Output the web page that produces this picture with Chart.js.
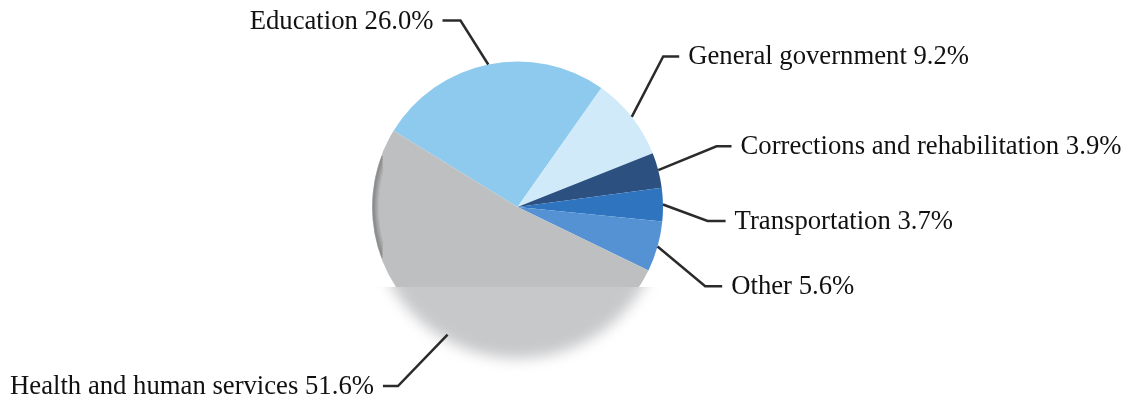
<!DOCTYPE html>
<html>
<head>
<meta charset="utf-8">
<script src="https://cdn.jsdelivr.net/npm/chart.js@4.4.1/dist/chart.umd.min.js"></script>
<style>
html,body{margin:0;padding:0;background:#fff;}
#wrap{width:1131px;height:401px;position:relative;}
</style>
</head>
<body>
<div id="wrap"><canvas id="c" width="1131" height="401"></canvas></div>
<script>
const categories = ["Education", "General government", "Corrections and rehabilitation", "Transportation", "Other", "Health and human services"];
const shares = [26.0, 9.2, 3.9, 3.7, 5.6, 51.6];
const sliceColors = ["#8ECAEE", "#D0EAFA", "#2C5181", "#2E74BF", "#5592D3", "#BEBFC1"];
// leader-line elbow: angle offset (deg) from slice mid-angle, and radius factor
const leaderAngleOffsets = [-5.4, -7.7, -2.3, 5.2, 7.1, 5.0];
const leaderRadii = [1.34, 1.44, 1.43, 1.31, 1.40, 1.48];
const leaderTails = [18, 16, 15, 18, 17, 15];

const fadePlugin = {
  id: 'fade',
  afterDatasetsDraw(chart) {
    const arc = chart.getDatasetMeta(0).data[0];
    const cx = arc.x, cy = arc.y, r = arc.outerRadius;
    const ctx = chart.ctx, cv = chart.canvas;
    // subtle dark rim on left of the grey slice
    for (let k = 0; k < 6; k++) {
      ctx.save();
      ctx.beginPath();
      ctx.arc(cx, cy, r - 1 - k, Math.PI * (0.885 + k * 0.006), Math.PI * (1.115 - k * 0.006));
      ctx.strokeStyle = 'rgba(100,100,100,' + (0.45 - k * 0.07) + ')';
      ctx.lineWidth = 1.5;
      ctx.stroke();
      ctx.restore();
    }
    const off = document.createElement('canvas');
    off.width = cv.width; off.height = cv.height;
    off.getContext('2d').drawImage(cv, 0, 0);
    const cut = cy + r * 0.55;
    ctx.save();
    ctx.beginPath();
    ctx.rect(0, cut, cv.width, cv.height - cut);
    ctx.clip();
    ctx.fillStyle = '#fff';
    ctx.fillRect(0, cut, cv.width, cv.height - cut);
    ctx.filter = 'blur(7px)';
    ctx.globalAlpha = 0.85;
    ctx.drawImage(off, 0, 6);
    ctx.restore();
  }
};

const labelPlugin = {
  id: 'leaders',
  afterDraw(chart) {
    const ctx = chart.ctx;
    const meta = chart.getDatasetMeta(0);
    ctx.save();
    ctx.font = '26.7px "Liberation Serif", "Times New Roman", serif';
    ctx.textBaseline = 'middle';
    meta.data.forEach((a, i) => {
      const mid = (a.startAngle + a.endAngle) / 2;
      const r = a.outerRadius;
      const x0 = a.x + r * Math.cos(mid), y0 = a.y + r * Math.sin(mid);
      const ang = mid + leaderAngleOffsets[i] * Math.PI / 180;
      const x1 = a.x + r * leaderRadii[i] * Math.cos(ang);
      const y1 = a.y + r * leaderRadii[i] * Math.sin(ang);
      const dir = Math.cos(ang) >= 0 ? 1 : -1;
      const x2 = x1 + dir * leaderTails[i];
      ctx.beginPath();
      ctx.moveTo(x0, y0); ctx.lineTo(x1, y1); ctx.lineTo(x2, y1);
      ctx.strokeStyle = '#2b2b2b';
      ctx.lineWidth = 2.5;
      ctx.stroke();
      ctx.fillStyle = '#111';
      ctx.textAlign = dir > 0 ? 'left' : 'right';
      ctx.fillText(categories[i] + ' ' + shares[i].toFixed(1) + '%', x2 + dir * 9, y1 + 1);
    });
    ctx.restore();
  }
};

new Chart(document.getElementById('c'), {
  type: 'pie',
  data: {
    labels: categories,
    datasets: [{ data: shares, backgroundColor: sliceColors, borderWidth: 0 }]
  },
  options: {
    responsive: false,
    animation: false,
    rotation: -58.4,
    layout: { padding: { left: 372, right: 468, top: 61.5, bottom: 48.5 } },
    plugins: { legend: { display: false }, tooltip: { enabled: false } },
    events: []
  },
  plugins: [fadePlugin, labelPlugin]
});
</script>
</body>
</html>
